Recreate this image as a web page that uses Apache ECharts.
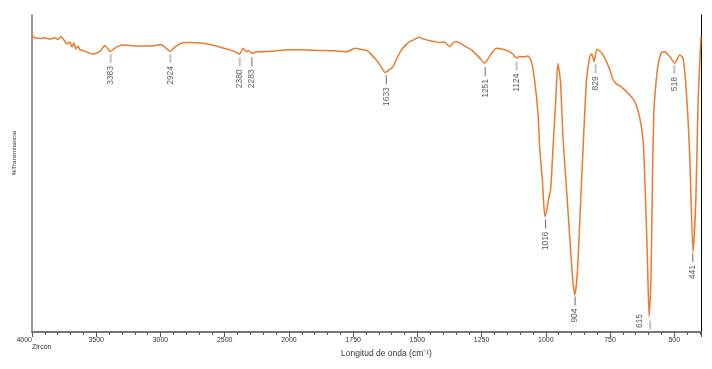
<!DOCTYPE html>
<html>
<head>
<meta charset="utf-8">
<script src="https://cdn.jsdelivr.net/npm/echarts@6/dist/echarts.min.js"></script>
<style>html,body{margin:0;padding:0;background:#fff}#c{width:712px;height:369px}</style>
</head>
<body>
<div id="c"></div>
<script>
// Wavenumber (cm-1) and %Transmittance (relative units)
const wavenumbers = [4000,3992,3938,3899,3860,3821,3798,3775,3751,3728,3705,3689,3674,3658,3642,3627,3604,3572,3549,3526,3495,3464,3433,3409,3390,3363,3332,3293,3238,3161,3083,3036,2997,2966,2923,2896,2865,2834,2772,2694,2616,2539,2461,2414,2383,2357,2331,2313,2290,2259,2204,2072,2000,
1970,1880,1822,1775,1744,1717,1694,1660,1643,1625,1612,1595,1581,1562,1546,1530,1511,1494,1472,1452,1433,1413,1394,1374,1355,1335,1316,1289,1257,1238,1218,1192,1172,1147,1129,1114,1102,1082,1069,1056,1043,1030,1024,1013,1004,998,991,981,972,961,953,943,933,917,904,895,887,877,868,855,842,829,821,812,801,782,764,751,738,724,712,680,654,634,621,612,604,598,591,585,580,572,563,550,537,518,498,479,466,453,440,427,416,407,396];
const transmittance = [95.1,93.1,92.6,92.8,92.4,92.8,92.3,93.2,92.1,90.9,91.5,89.9,91.2,89.3,90.2,89.0,88.8,88.3,87.9,87.7,88.0,88.8,90.4,89.3,88.5,89.3,90.1,90.5,90.4,90.2,90.2,90.4,90.7,89.9,88.5,89.6,90.5,91.2,91.3,91.2,90.7,89.9,89.0,88.3,87.7,89.5,88.5,88.8,87.9,88.3,88.4,88.8,89.0,
89.0,88.8,88.7,88.4,89.5,89.1,88.7,85.8,83.9,81.9,82.5,83.7,86.1,89.0,90.5,91.6,92.3,93.0,92.3,91.9,91.6,91.3,91.5,90.0,91.6,91.2,90.2,89.0,86.4,84.8,87.1,89.5,89.3,88.7,87.7,86.4,86.9,86.8,87.1,85.3,79.0,68.5,58.1,47.4,36.4,37.9,41.1,45.3,58.1,73.7,84.8,79.0,61.1,42.2,26.4,16.4,11.7,19.0,34.8,58.0,79.0,86.9,87.7,85.3,89.2,88.0,85.3,82.7,79.5,78.2,77.7,75.3,72.7,67.4,60.0,42.2,21.1,4.8,15.9,47.4,68.5,77.9,84.2,88.2,88.4,86.9,84.8,87.4,86.4,75.8,55.8,25.3,42.2,73.7,93.2];

// Peak annotations: label text, marker position (cm-1), marker level
const peakLabels = ["3383","2924","2380","2283","1633","1251","1124","1016","904","829","615","518","441"];
const peakPos    = [3388,2922,2383,2288,1621,1236,1114,1001,886,806,594,500,428];
const peakLevel  = [86.3,86.3,85.2,85.2,79.6,82.2,83.9,34.1,9.8,83.0,2.2,82.8,23.5];

const xTickLabels = ["4000","3500","3000","2500","2000","1750","1500","1250","1000","750","500"];
const xMinWave = 396, xMaxWave = 4000;

// Piecewise axis (half scale above 2000 cm-1), drawn through a value axis
function toAxis(w){ const t = w <= 2000 ? w : 2000 + (w - 2000) / 2; return -t; }
function fromAxis(v){ const t = -v; return t <= 2000 ? t : 2000 + 2 * (t - 2000); }

const FONT = 'Liberation Sans, Arial, sans-serif';
const lineData = wavenumbers.map((w,i)=>[toAxis(w), transmittance[i]]);
const darkTicks = new Set(["2283","1633","1251","1016","904","441"]);
const peakData = peakLabels.map((txt,i)=>{
  const item = {value:[toAxis(peakPos[i]), peakLevel[i], txt],
    itemStyle:{color: darkTicks.has(txt) ? '#444' : '#b5b5b5'},
    symbolSize: darkTicks.has(txt) ? [1,9] : [2,9]};
  if (txt === '615') {
    item.label = {position:'inside', align:'center', verticalAlign:'middle', offset:[4,-10]};
  }
  return item;
});

const chart = echarts.init(document.getElementById('c'));
chart.setOption({
  animation:false,
  backgroundColor:'#fff',
  grid:{left:32,right:11,top:15,bottom:37},
  xAxis:[{
    type:'value', min:toAxis(xMaxWave), max:toAxis(xMinWave), interval:250,
    axisLine:{show:true,lineStyle:{color:'#555',width:1}},
    axisTick:{show:true,length:5,lineStyle:{color:'#555'}},
    minorTick:{show:true,splitNumber:5,length:3,lineStyle:{color:'#555'}},
    splitLine:{show:false},
    axisLabel:{fontSize:7,color:'#333',margin:5,fontFamily:FONT,
      showMaxLabel:false, alignMinLabel:'right',
      formatter:(v)=>{ const w = Math.round(fromAxis(v)); const s=String(w); return xTickLabels.includes(s)?s:''; }}
  },{
    type:'value', position:'top', min:toAxis(xMaxWave), max:toAxis(xMinWave),
    axisLine:{show:true,lineStyle:{color:'#777',width:2}},
    axisTick:{show:false}, axisLabel:{show:false}, splitLine:{show:false}
  }],
  yAxis:[{
    type:'value', min:0, max:100,
    axisLine:{show:true,lineStyle:{color:'#777',width:1.5}},
    axisTick:{show:false}, axisLabel:{show:false}, splitLine:{show:false}
  },{
    type:'value', position:'right', min:0, max:100,
    axisLine:{show:true,lineStyle:{color:'#000',width:1}},
    axisTick:{show:false}, axisLabel:{show:false}, splitLine:{show:false}
  }],
  series:[{
    type:'line', data:lineData, showSymbol:false, smooth:0.2,
    lineStyle:{color:'#EB7A2C',width:1.5}, z:3
  },{
    type:'scatter', data:peakData, symbol:'rect',
    label:{show:true, position:'bottom', distance:3, rotate:90, align:'right', verticalAlign:'middle',
      fontSize:8.5, color:'#333', fontFamily:FONT,
      formatter:(p)=>p.value[2]},
    z:4
  }],
  graphic:[
    {type:'text', left:341, top:349, style:{text:'Longitud de onda (cm⁻¹)', fontSize:8.5, fill:'#333', fontFamily:FONT}},
    {type:'text', left:32, top:344, style:{text:'Zircón', fontSize:7, fill:'#333', fontFamily:FONT}},
    {type:'text', left:11, top:131, rotation:Math.PI/2, style:{text:'%Transmitancia', fontSize:6.2, fill:'#333', fontFamily:FONT}}
  ]
});
</script>
</body>
</html>
